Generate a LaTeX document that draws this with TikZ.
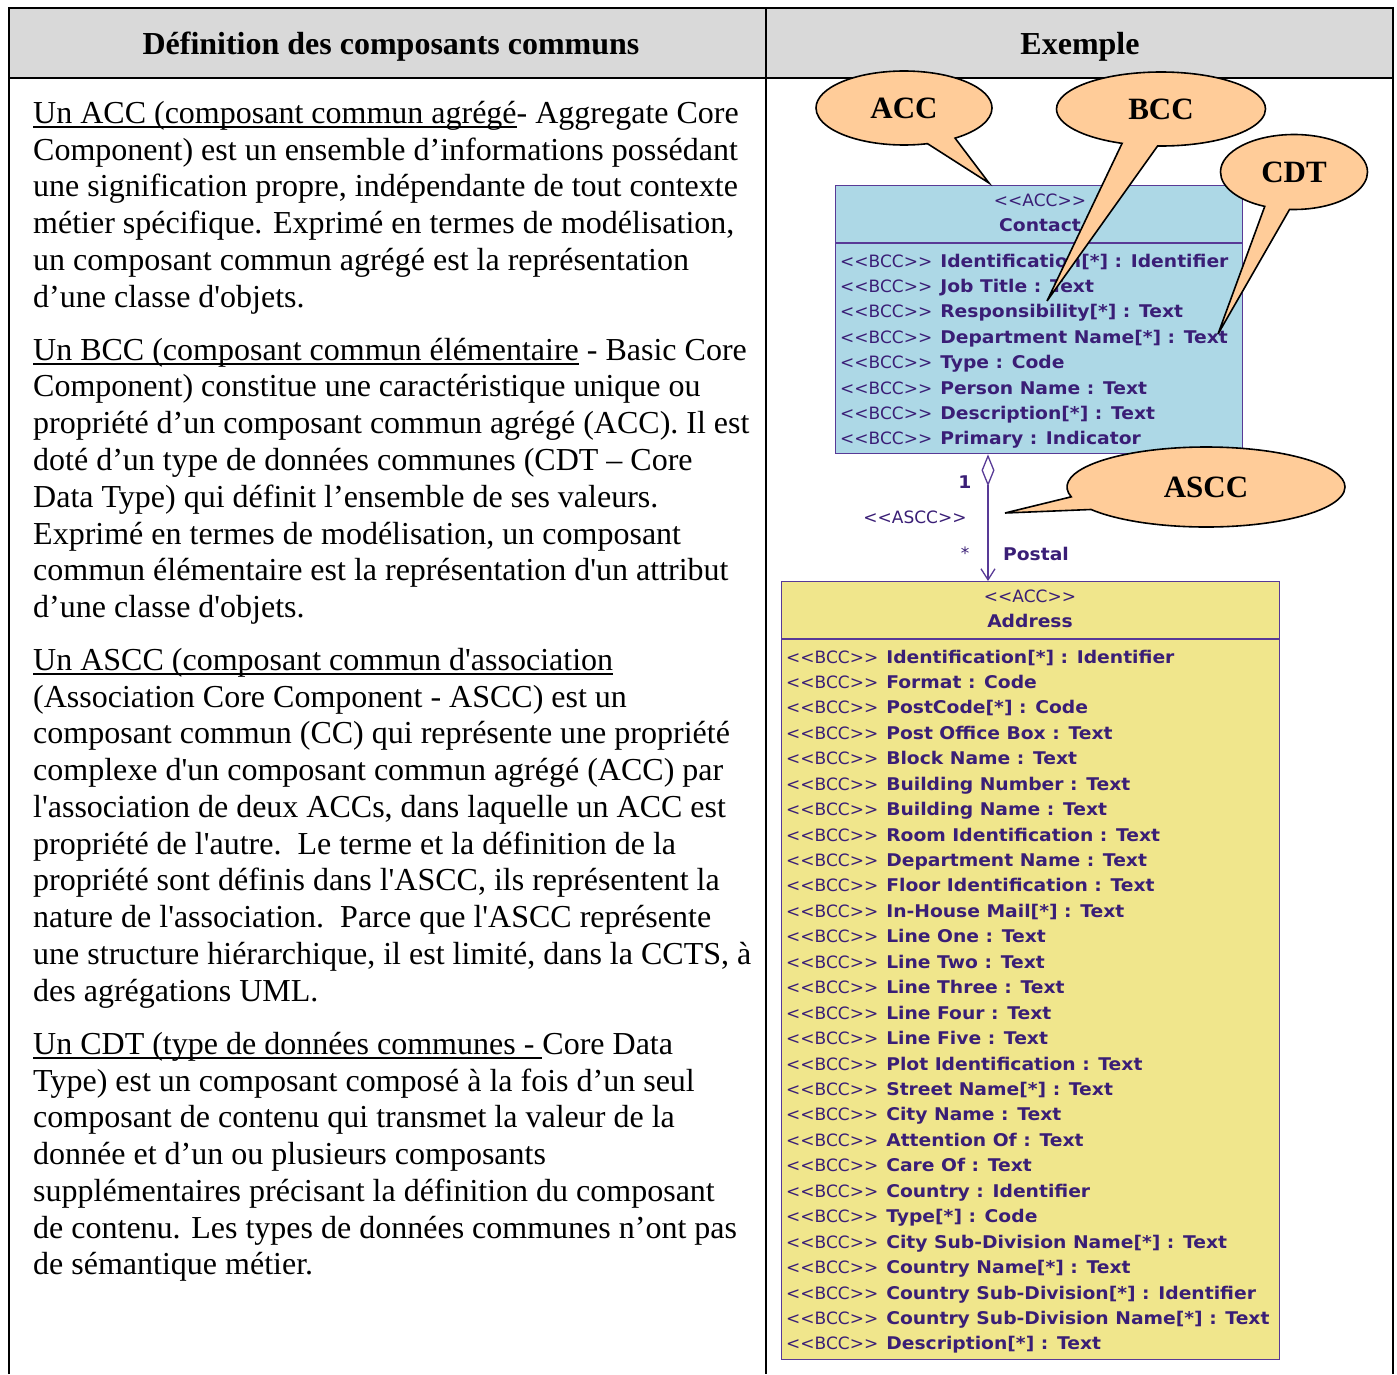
\documentclass[tikz,border=0pt]{standalone}
\usepackage{fontspec}
\newfontfamily\serif{Liberation Serif}[Ligatures=TeXOff]
\newfontfamily\umlfont{DejaVu Sans}[Ligatures=TeXOff]
\newfontfamily\umlbold{DejaVu Sans Bold}[Ligatures=TeXOff,FakeStretch=1.07]
\usetikzlibrary{shapes.callouts,arrows.meta}

\definecolor{hdrgray}{RGB}{217,217,217}
\definecolor{umlink}{RGB}{58,30,118}
\definecolor{umledge}{RGB}{88,58,150}
\definecolor{contactfill}{RGB}{173,216,230}
\definecolor{addressfill}{RGB}{240,230,140}
\definecolor{calloutfill}{RGB}{255,204,153}

% underline sitting just below the baseline
\newcommand\undl[1]{\setbox0\hbox{#1}\rlap{\vrule width\wd0 height -3.2pt depth 4.8pt}\box0\relax}
\newcommand\bcc{{\umlfont\fontsize{17}{20}\selectfont<<BCC>>}\hspace{8pt}}

\begin{document}
\begin{tikzpicture}[x=1pt,y=-1pt,
  frame/.style={line width=2.2pt,black},
  hdr/.style={anchor=base,inner sep=0,font=\serif\bfseries\fontsize{32}{37}\selectfont},
  bodyline/.style={anchor=base west,inner sep=0,font=\serif\fontsize{32}{37}\selectfont},
  umlbox/.style={rectangle,draw=umledge,line width=1.3pt,inner sep=0},
  umlsep/.style={draw=umledge,line width=1.3pt},
  umlhead/.style={anchor=base,inner sep=0,text=umlink,font=\umlfont\fontsize{17}{20}\selectfont},
  umlname/.style={anchor=base,inner sep=0,text=umlink,font=\umlbold\fontsize{17.5}{20}\selectfont},
  umlattr/.style={anchor=base west,inner sep=0,text=umlink,font=\umlbold\fontsize{17.5}{20}\selectfont},
  umllbl/.style={inner sep=0,text=umlink,font=\umlfont\fontsize{17}{20}\selectfont},
  umlboldlbl/.style={inner sep=0,text=umlink,font=\umlbold\fontsize{17.5}{20}\selectfont},
  assoc/.style={draw=umledge,line width=1.3pt,
    {Diamond[open,length=32pt,width=13pt,fill=white]}-{Straight Barb[length=11pt,width=14pt]}},
  bubble/.style={ellipse callout,draw=black,line width=1.6pt,fill=calloutfill,inner sep=0,
    callout pointer arc=20,font=\serif\bfseries\fontsize{31}{31}\selectfont}
]
\useasboundingbox (0,0) rectangle (1397,1374);
\fill[white] (0,0) rectangle (1397,1374);

% ---- table frame and header row
\fill[hdrgray] (9,8) rectangle (1393,78);
\draw[frame] (9,1374) -- (9,8) -- (1393,8) -- (1393,1374);
\draw[frame] (9,78) -- (1393,78);
\draw[frame] (766,8) -- (766,1374);
\node[hdr] (hdrdef) at (391,54) {Définition des composants communs};
\node[hdr] (hdrex) at (1080,54) {Exemple};

% ---- definitions column
\node[bodyline] (a1) at (33,123) {\undl{Un ACC (composant commun agrégé}- Aggregate Core};
\node[bodyline] (a2) at (33,160) {Component) est un ensemble d’informations possédant};
\node[bodyline] (a3) at (33,196) {une signification propre, indépendante de tout contexte};
\node[bodyline] (a4) at (33,233) {métier spécifique. Exprimé en termes de modélisation,};
\node[bodyline] (a5) at (33,270) {un composant commun agrégé est la représentation};
\node[bodyline] (a6) at (33,307) {d’une classe d'objets.};

\node[bodyline] (b1) at (33,360) {\undl{Un BCC (composant commun élémentaire} - Basic Core};
\node[bodyline] (b2) at (33,396) {Component) constitue une caractéristique unique ou};
\node[bodyline] (b3) at (33,433) {propriété d’un composant commun agrégé (ACC). Il est};
\node[bodyline] (b4) at (33,470) {doté d’un type de données communes (CDT – Core};
\node[bodyline] (b5) at (33,507) {Data Type) qui définit l’ensemble de ses valeurs.};
\node[bodyline] (b6) at (33,544) {Exprimé en termes de modélisation, un composant};
\node[bodyline] (b7) at (33,580) {commun élémentaire est la représentation d'un attribut};
\node[bodyline] (b8) at (33,617) {d’une classe d'objets.};

\node[bodyline] (c1) at (33,670) {\undl{Un ASCC (composant commun d'association}};
\node[bodyline] (c2) at (33,707) {(Association Core Component - ASCC) est un};
\node[bodyline] (c3) at (33,743) {composant commun (CC) qui représente une propriété};
\node[bodyline] (c4) at (33,780) {complexe d'un composant commun agrégé (ACC) par};
\node[bodyline] (c5) at (33,817) {l'association de deux ACCs, dans laquelle un ACC est};
\node[bodyline] (c6) at (33,854) {propriété de l'autre.\ \ Le terme et la définition de la};
\node[bodyline] (c7) at (33,890) {propriété sont définis dans l'ASCC, ils représentent la};
\node[bodyline] (c8) at (33,927) {nature de l'association.\ \ Parce que l'ASCC représente};
\node[bodyline] (c9) at (33,964) {une structure hiérarchique, il est limité, dans la CCTS, à};
\node[bodyline] (c10) at (33,1001) {des agrégations UML.};

\node[bodyline] (d1) at (33,1054) {\undl{Un CDT (type de données communes - }Core Data};
\node[bodyline] (d2) at (33,1091) {Type) est un composant composé à la fois d’un seul};
\node[bodyline] (d3) at (33,1127) {composant de contenu qui transmet la valeur de la};
\node[bodyline] (d4) at (33,1164) {donnée et d’un ou plusieurs composants};
\node[bodyline] (d5) at (33,1201) {supplémentaires précisant la définition du composant};
\node[bodyline] (d6) at (33,1238) {de contenu. Les types de données communes n’ont pas};
\node[bodyline] (d7) at (33,1274) {de sémantique métier.};

% ---- example column: Contact class
\node[umlbox,fill=contactfill,minimum width=407,minimum height=268,anchor=north west] (contact) at (835,185) {};
\draw[umlsep] ([yshift=-58pt]contact.north west) -- ([yshift=-58pt]contact.north east);
\node[umlhead] (contactst) at (1040,206) {<<ACC>>};
\node[umlname] (contactnm) at (1040,231) {Contact};
\foreach \t [count=\k from 0] in {
  Identification[*] : Identifier, Job Title : Text, Responsibility[*] : Text,
  Department Name[*] : Text, Type : Code, Person Name : Text,
  Description[*] : Text, Primary : Indicator}
  \node[umlattr] (cattr\k) at (840,{267+25.4*\k}) {\bcc\t};

% ---- Address class
\node[umlbox,fill=addressfill,minimum width=498,minimum height=778,anchor=north west] (address) at (781,581) {};
\draw[umlsep] ([yshift=-58pt]address.north west) -- ([yshift=-58pt]address.north east);
\node[umlhead] (addressst) at (1030,602) {<<ACC>>};
\node[umlname] (addressnm) at (1030,627) {Address};
\foreach \t [count=\k from 0] in {
  Identification[*] : Identifier, Format : Code, PostCode[*] : Code,
  Post Office Box : Text, Block Name : Text, Building Number : Text,
  Building Name : Text, Room Identification : Text, Department Name : Text,
  Floor Identification : Text, In-House Mail[*] : Text, Line One : Text,
  Line Two : Text, Line Three : Text, Line Four : Text, Line Five : Text,
  Plot Identification : Text, Street Name[*] : Text, City Name : Text,
  Attention Of : Text, Care Of : Text, Country : Identifier, Type[*] : Code,
  City Sub-Division Name[*] : Text, Country Name[*] : Text,
  Country Sub-Division[*] : Identifier, Country Sub-Division Name[*] : Text,
  Description[*] : Text}
  \node[umlattr] (aattr\k) at (786,{663+25.44*\k}) {\bcc\t};

% ---- aggregation between the two classes
\draw[assoc] ([xshift=153pt]contact.south west) -- ([xshift=207pt]address.north west);
\node[umlboldlbl] (mult1) at (965,482) {1};
\node[umllbl] (asccst) at (915,517) {<<ASCC>>};
\node[umllbl] (multn) at (965,553) {*};
\node[umlboldlbl] (role) at (1036,554) {Postal};

% ---- callouts
\node[bubble,minimum width=176,minimum height=74,callout absolute pointer={(989,183)}] (calacc) at (904,108) {ACC};
\node[bubble,minimum width=209,minimum height=74,callout absolute pointer={(1047,301)}] (calbcc) at (1161,109) {BCC};
\node[bubble,minimum width=147,minimum height=75,callout absolute pointer={(1218,334)}] (calcdt) at (1294,172) {CDT};
\node[bubble,minimum width=278,minimum height=80,callout absolute pointer={(1005,513)}] (calascc) at (1206,487) {ASCC};
\end{tikzpicture}
\end{document}
